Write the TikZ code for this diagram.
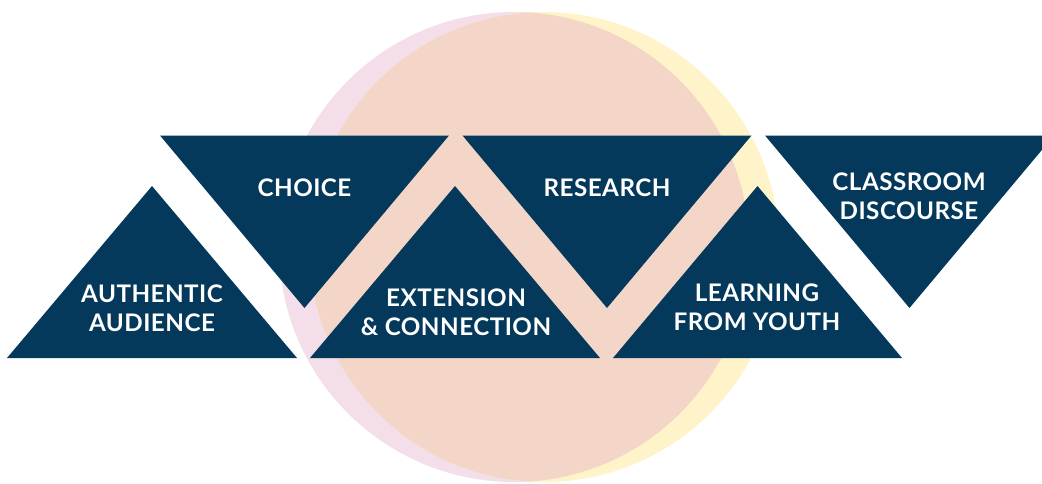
\documentclass[tikz,border=0pt]{standalone}
\usepackage{fontspec}
\setmainfont{Lato}[LetterSpace=2]
\definecolor{navyc}{RGB}{4,57,92}
\definecolor{pinkc}{RGB}{243,222,234}
\definecolor{yellowc}{RGB}{255,243,201}
\definecolor{peachc}{RGB}{243,214,199}
\tikzset{
  lbl/.style={text=white,font=\fontsize{24.2}{29}\selectfont\bfseries,align=center,inner sep=0pt},
  tri/.style={fill=navyc}
}
\begin{document}
\begin{tikzpicture}[x=1pt,y=-1pt]
\useasboundingbox (0,0) rectangle (1042,483);
\clip (0,0) rectangle (1042,483);
% circles
\fill[pinkc] (514,247) circle[radius=235pt];
\fill[yellowc] (544,247) circle[radius=235pt];
\begin{scope}
  \clip (514,247) circle[radius=235pt];
  \fill[peachc] (544,247) circle[radius=235pt];
\end{scope}
% down triangles
\fill[tri] (160,135.5) -- (449,135.5) -- (304.5,308) -- cycle;
\fill[tri] (462.5,135.5) -- (751.5,135.5) -- (607,308) -- cycle;
\fill[tri] (765,135.5) -- (1054,135.5) -- (909.5,308) -- cycle;
% up triangles
\fill[tri] (7,358) -- (297,358) -- (152,186) -- cycle;
\fill[tri] (310,358) -- (600,358) -- (455,186) -- cycle;
\fill[tri] (613,358) -- (902,358) -- (757.5,186) -- cycle;
% labels
\node[lbl] (choice) at (304.5,188) {CHOICE};
\node[lbl] (research) at (607,188) {RESEARCH};
\node[lbl] (classroom) at (909,196) {CLASSROOM\\DISCOURSE};
\node[lbl] (authentic) at (152,308.5) {AUTHENTIC\\AUDIENCE};
\node[lbl] (extension) at (456,312.5) {EXTENSION\\\& CONNECTION};
\node[lbl] (learning) at (757,307.5) {LEARNING\\FROM YOUTH};
\end{tikzpicture}
\end{document}
